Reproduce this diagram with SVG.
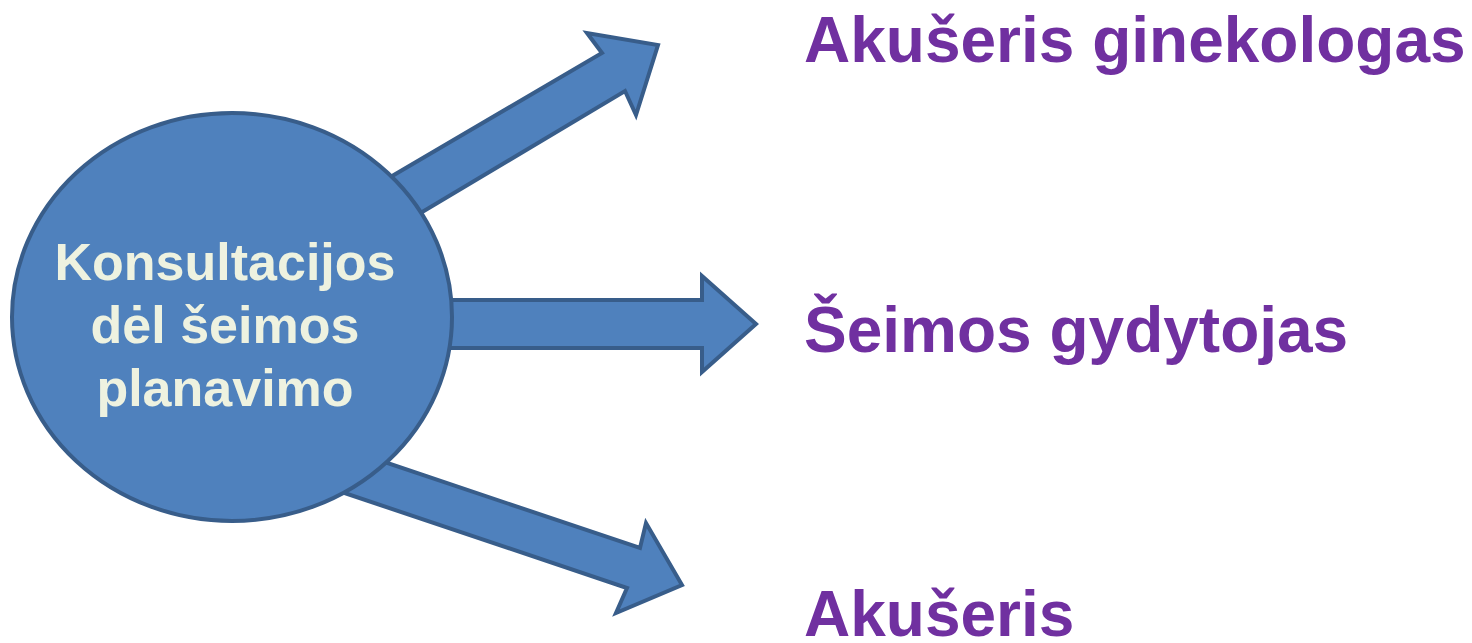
<svg xmlns="http://www.w3.org/2000/svg" width="1472" height="643" viewBox="0 0 1472 643">
<style>
.arrow{fill:#4F81BD;stroke:#385D8A;stroke-width:4;stroke-linejoin:miter}
.hub{fill:#4F81BD;stroke:#385D8A;stroke-width:4}
.hubtxt{font-family:"Liberation Sans",Arial,sans-serif;font-weight:bold;font-size:52px;fill:#EEF2E0;text-anchor:middle}
.lbl{font-family:"Liberation Sans",Arial,sans-serif;font-weight:bold;font-size:64px;fill:#7030A0}
</style>
<rect width="1472" height="643" fill="#FFFFFF"/>
<g id="connectors">
<polygon class="arrow" points="341,206 602,53 587,33 658,45 636,115 625,91 372,242"/>
<polygon class="arrow" points="400,300 702,300 702,276 756,324 702,372 702,348 400,348"/>
<polygon class="arrow" points="331,444 640,548 646,523 682,585 616,613 627,588 288,474"/>
</g>
<g id="hub">
<ellipse class="hub" cx="232" cy="317" rx="220" ry="204"/>
<text class="hubtxt" x="225" y="280">Konsultacijos</text>
<text class="hubtxt" x="225" y="343">dėl šeimos</text>
<text class="hubtxt" x="225" y="406">planavimo</text>
</g>
<g id="akuseris-ginekologas">
<text class="lbl" x="804" y="62">Akušeris ginekologas</text>
</g>
<g id="seimos-gydytojas">
<text class="lbl" x="804" y="352">Šeimos gydytojas</text>
</g>
<g id="akuseris">
<text class="lbl" x="804" y="636">Akušeris</text>
</g>
</svg>
